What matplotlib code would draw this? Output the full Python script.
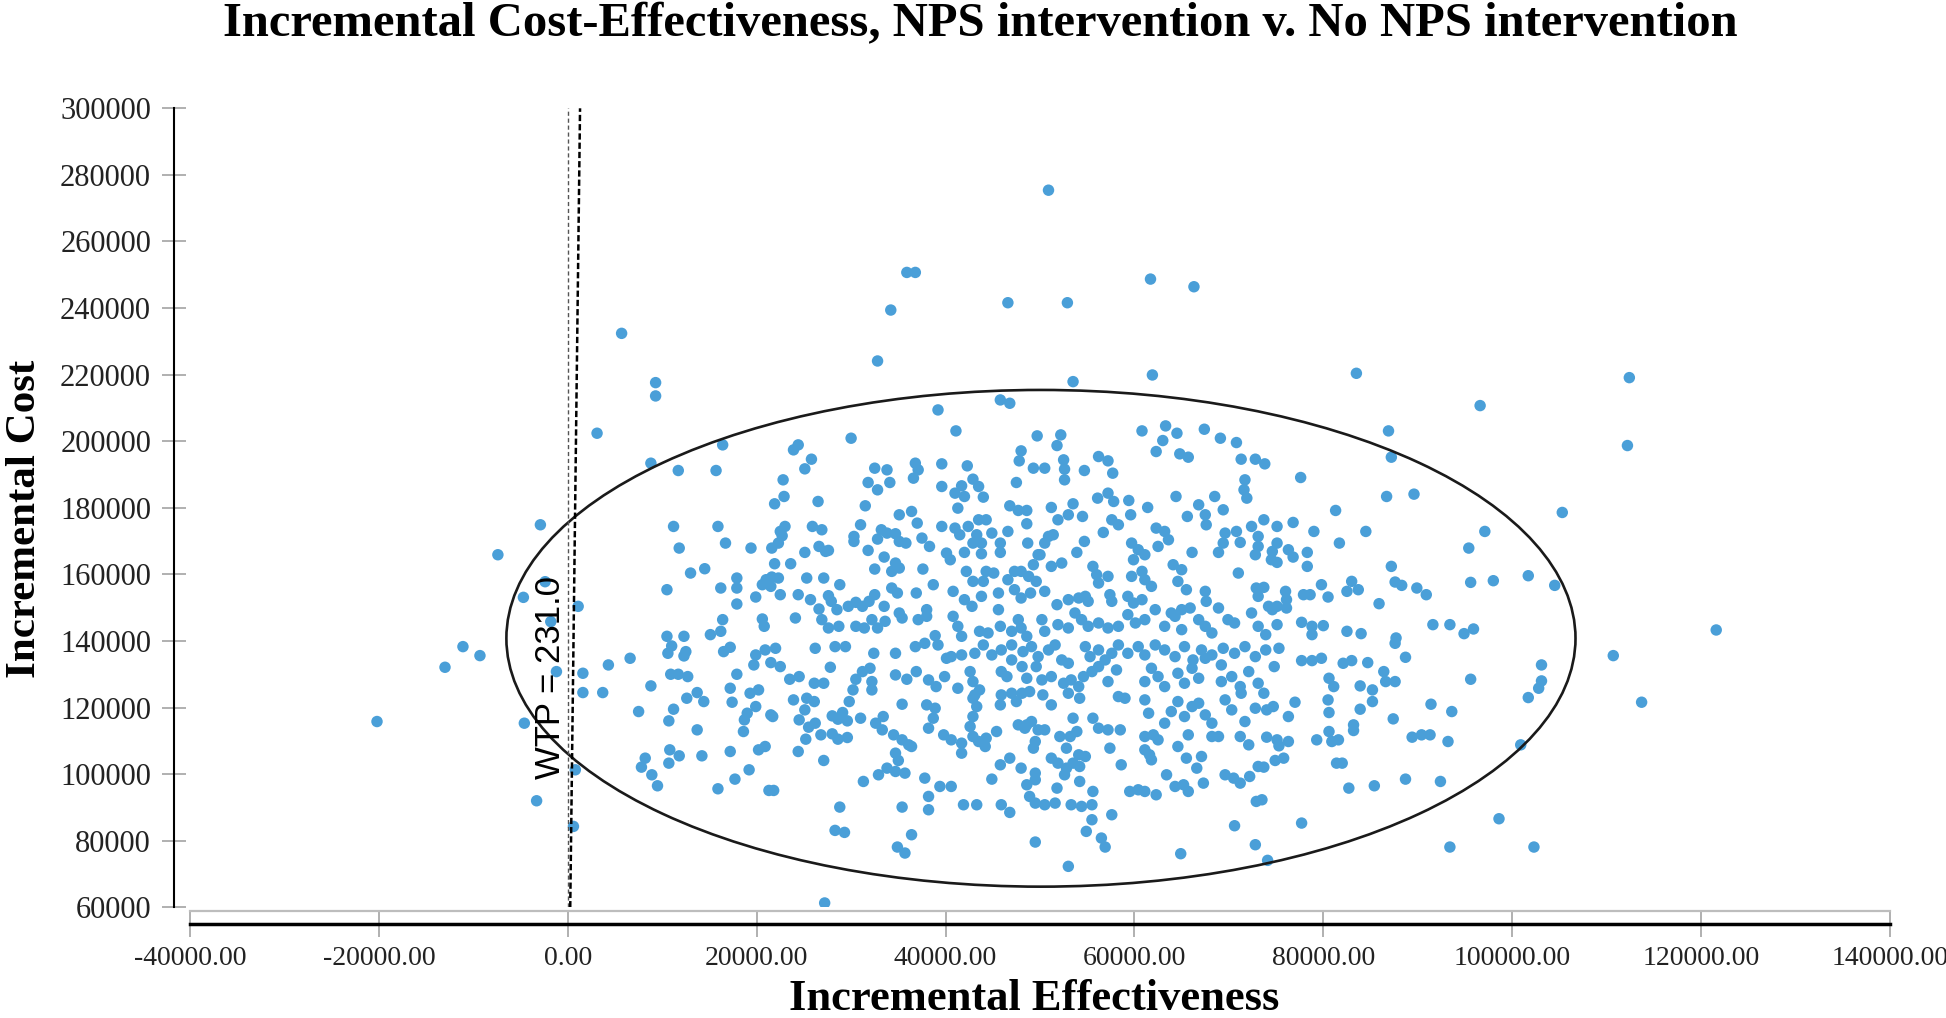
import numpy as np
import matplotlib
matplotlib.use("Agg")
import matplotlib.pyplot as plt
from matplotlib.patches import Ellipse
from matplotlib.lines import Line2D

# Values, in thousands (effectiveness, cost)
outer_pts = [
    (50.9, 275.4), (35.9, 250.7), (36.8, 250.7), (34.2, 239.4), (46.6, 241.6), (52.9, 241.6),
    (61.7, 248.7), (66.3, 246.4), (32.8, 224.1), (61.9, 219.9), (5.7, 232.4), (83.5, 220.4),
    (112.4, 219.1), (112.2, 198.7), (121.6, 143.3), (110.7, 135.6), (113.7, 121.6), (27.2, 61.3),
]

left_pts = [
    (-2.9, 174.9), (-7.4, 165.9), (-4.7, 153.1), (-2.4, 157.8), (-1.8, 145.8), (-1.2, 130.8),
    (-11.1, 138.3), (-9.3, 135.6), (-13.0, 132.1), (-20.2, 115.8), (-4.6, 115.3), (-3.3, 92.0),
    (0.8, 101.3), (0.6, 84.3),
]

upper_left_pts = [
    (9.3, 217.6), (9.3, 213.6), (3.1, 202.4), (8.8, 193.4), (16.4, 198.9), (11.7, 191.2), (15.7, 191.2),
    (23.9, 197.4), (24.4, 198.9), (25.8, 194.6), (25.1, 191.7), (30.0, 200.9), (22.8, 188.4), (22.9, 183.4),
    (21.9, 181.2), (26.5, 181.9), (32.5, 191.9), (33.8, 191.4), (31.8, 187.6), (32.8, 185.4), (34.1, 187.6),
    (31.5, 180.6), (35.1, 177.9), (31.0, 174.9), (30.3, 171.4), (30.3, 169.9), (33.2, 173.4), (33.8, 172.4),
    (32.8, 170.6), (34.7, 172.2), (35.1, 169.9), (35.8, 169.4), (11.2, 174.4), (15.9, 174.4), (11.8, 167.9),
    (16.7, 169.4), (19.4, 167.9), (23.0, 174.4), (22.5, 172.9), (22.7, 171.6), (25.9, 174.4), (26.9, 173.4),
    (21.6, 167.9), (22.3, 169.4), (25.1, 166.6), (26.6, 168.4), (27.3, 166.9), (27.6, 167.2), (31.8, 167.2),
    (33.5, 165.2), (34.7, 163.4), (35.1, 161.9), (34.3, 160.9), (32.5, 161.6), (21.9, 163.2), (23.6, 163.2),
    (13.0, 160.4), (14.5, 161.7), (10.5, 155.4), (17.9, 158.9), (17.9, 155.9), (16.2, 155.9), (21.0, 158.4),
    (21.6, 159.2), (20.6, 156.9), (21.5, 156.4), (22.3, 158.9), (19.9, 153.2), (22.5, 153.9), (25.3, 158.9),
    (27.1, 158.9), (24.4, 153.9), (28.8, 156.9), (27.6, 153.6), (27.9, 151.9), (25.7, 152.4), (26.6, 149.6),
    (17.9, 151.1), (28.5, 149.4), (29.7, 150.4), (30.5, 151.6), (31.2, 150.4), (31.9, 151.9), (32.5, 153.9),
    (33.5, 150.4), (34.3, 155.9), (34.9, 154.4), (35.1, 148.4), (16.4, 146.4), (20.6, 146.6), (20.8, 144.4),
    (24.1, 146.9), (26.9, 146.4), (27.6, 143.9), (28.7, 144.4), (30.5, 144.4), (31.4, 143.9), (32.8, 143.9),
    (32.2, 146.4), (33.6, 145.9), (35.4, 146.9), (10.5, 141.4), (12.3, 141.4), (15.1, 141.9), (16.2, 142.9),
    (1.1, 150.4),
]

upper_mid_pts = [
    (53.5, 217.9), (45.8, 212.4), (46.8, 211.4), (39.2, 209.4), (41.1, 203.1), (49.7, 201.6), (52.2, 201.9),
    (51.8, 198.7), (48.0, 197.1), (47.8, 194.1), (52.5, 194.4), (52.6, 191.6), (52.6, 188.4), (49.3, 191.9),
    (50.5, 191.9), (54.7, 191.2), (56.2, 195.4), (57.2, 194.1), (57.7, 190.4), (47.5, 187.6), (36.8, 193.4),
    (37.1, 191.4), (36.6, 188.9), (39.6, 193.2), (42.3, 192.6), (39.6, 186.4), (42.9, 188.6), (43.5, 186.4),
    (41.7, 186.6), (41.0, 184.4), (42.0, 183.4), (41.3, 179.9), (44.0, 183.2), (46.8, 180.6), (47.7, 179.2),
    (48.6, 179.2), (51.2, 180.1), (53.5, 181.2), (53.0, 177.9), (51.9, 176.4), (48.6, 175.2), (46.6, 172.9),
    (48.7, 169.4), (54.5, 177.4), (56.1, 182.9), (57.2, 184.4), (57.8, 181.9), (59.4, 182.2), (59.6, 177.9),
    (61.4, 180.1), (57.6, 176.4), (58.3, 174.9), (56.7, 172.6), (54.7, 169.9), (50.9, 171.4), (51.4, 171.9),
    (50.5, 169.4), (50.0, 165.9), (53.9, 166.6), (44.9, 172.4), (45.8, 169.4), (45.8, 166.6), (43.8, 169.4),
    (43.8, 166.2), (43.3, 171.9), (42.9, 169.4), (37.0, 175.4), (37.5, 170.9), (38.3, 168.4), (36.4, 178.9),
    (39.6, 174.4), (41.0, 173.9), (41.5, 171.9), (42.4, 174.4), (43.5, 176.4), (44.3, 176.4), (40.1, 166.4),
    (40.5, 164.4), (42.0, 166.6), (37.6, 161.6), (38.7, 156.9), (36.9, 154.4), (38.0, 149.4), (42.2, 160.9),
    (42.9, 157.9), (44.0, 157.9), (44.3, 160.9), (45.1, 160.4), (40.8, 154.9), (42.0, 152.4), (42.8, 150.4),
    (43.8, 153.4), (45.6, 154.4), (45.6, 149.4), (46.6, 158.4), (47.3, 160.9), (48.0, 160.9), (48.8, 159.4),
    (49.3, 162.9), (49.8, 165.9), (47.3, 155.4), (48.0, 152.9), (49.0, 154.4), (49.6, 157.9), (50.5, 154.9),
    (51.2, 162.4), (52.3, 163.4), (51.8, 150.9), (53.0, 152.4), (54.1, 152.9), (54.8, 153.4), (55.1, 151.9),
    (55.6, 162.4), (56.0, 159.9), (56.2, 157.4), (57.2, 159.4), (57.4, 153.9), (57.6, 151.9), (59.7, 169.4),
    (60.4, 167.4), (61.1, 165.9), (59.9, 164.4), (59.7, 159.4), (60.8, 160.9), (61.1, 158.4), (61.8, 156.4),
    (59.3, 153.4), (59.9, 151.4), (60.8, 152.4), (62.3, 173.9), (63.2, 172.9), (63.6, 170.4), (62.5, 168.4),
    (64.1, 162.9), (65.0, 161.4), (64.6, 157.9), (65.5, 155.4), (62.2, 149.4), (63.9, 148.4), (65.0, 149.4),
    (65.9, 149.9), (66.1, 166.6), (65.6, 177.4), (66.8, 180.9), (67.5, 177.9), (67.6, 174.9), (69.4, 179.4),
    (68.5, 183.4), (64.4, 183.4), (60.8, 203.1), (63.3, 204.6), (64.5, 202.4), (63.0, 200.2), (62.3, 196.9),
    (64.8, 196.2), (65.7, 195.2), (67.4, 203.6), (69.1, 200.9), (70.8, 199.6), (71.3, 194.6), (72.8, 194.6),
    (71.7, 188.4), (71.6, 185.4), (71.9, 182.9), (69.6, 172.4), (69.4, 169.4), (68.9, 166.6), (70.8, 172.9),
    (71.2, 169.6), (72.4, 174.4), (73.1, 171.4), (72.8, 165.9), (73.1, 168.4), (71.0, 160.4), (67.5, 154.9),
    (67.6, 151.9), (68.9, 149.9), (69.9, 146.4), (70.6, 145.4), (72.9, 155.9), (73.1, 153.4), (72.4, 148.4),
    (73.1, 144.4), (37.1, 146.4), (38.0, 147.4), (38.9, 141.6), (40.8, 147.4), (41.3, 144.4), (41.7, 141.4),
    (43.6, 142.9), (44.5, 142.4), (45.8, 144.4), (47.0, 142.9), (47.7, 146.4), (48.0, 143.9), (48.6, 141.4),
    (50.2, 146.4), (50.5, 142.9), (51.9, 144.9), (53.0, 143.9), (53.7, 148.4), (54.4, 146.4), (55.1, 144.4),
    (56.2, 145.4), (57.2, 143.9), (58.3, 144.4), (59.3, 147.9), (60.1, 145.4), (61.1, 146.4), (63.2, 144.4),
    (64.3, 147.4), (65.0, 143.4), (66.8, 146.4), (67.5, 144.4), (68.2, 142.4),
]

upper_right_pts = [
    (96.6, 210.7), (86.9, 203.1), (87.2, 195.2), (105.3, 178.6), (77.6, 189.1), (89.6, 184.1), (86.7, 183.4),
    (81.3, 179.2), (73.8, 193.2), (73.7, 176.4), (75.1, 174.4), (76.8, 175.6), (79.0, 172.9), (84.5, 172.9),
    (97.1, 172.9), (95.4, 167.9), (81.7, 169.4), (75.1, 169.4), (74.6, 166.9), (74.5, 164.4), (75.1, 163.6),
    (76.3, 167.4), (76.8, 165.2), (78.3, 166.6), (78.3, 162.4), (87.2, 162.4), (73.7, 156.1), (76.0, 154.9),
    (76.1, 152.4), (76.1, 149.9), (74.2, 150.4), (75.1, 150.4), (74.6, 149.4), (77.9, 153.9), (78.6, 153.9),
    (79.8, 156.9), (80.5, 153.2), (82.5, 154.9), (83.0, 157.9), (83.7, 155.4), (87.6, 157.7), (88.3, 156.7),
    (89.9, 155.9), (90.9, 153.9), (95.6, 157.6), (98.0, 158.1), (101.7, 159.6), (104.5, 156.7), (85.9, 151.2),
    (75.1, 144.9), (77.7, 145.6), (78.8, 144.4), (80.0, 144.6), (82.5, 142.9), (84.0, 142.2), (78.8, 141.9),
    (91.6, 144.9), (93.4, 144.9), (94.9, 142.2), (95.9, 143.6), (73.9, 141.9), (87.7, 140.9),
]

lower_left_pts = [
    (10.6, 136.3), (11.0, 138.5), (12.5, 136.8), (12.3, 135.5), (4.3, 132.8), (6.6, 134.8), (1.6, 130.3),
    (1.6, 124.5), (3.7, 124.5), (8.8, 126.5), (7.5, 118.8), (10.9, 130.0), (11.7, 130.0), (12.7, 129.3),
    (11.2, 119.5), (10.7, 116.0), (12.6, 122.8), (13.7, 124.5), (14.4, 121.8), (13.7, 113.3), (16.5, 136.8),
    (17.2, 138.1), (17.9, 130.0), (17.2, 125.8), (17.4, 121.6), (19.3, 124.3), (20.2, 125.3), (19.9, 120.3),
    (19.0, 118.3), (18.7, 116.3), (18.6, 112.8), (21.5, 117.8), (21.7, 117.3), (19.9, 135.8), (19.7, 132.8),
    (20.9, 137.3), (22.0, 137.8), (21.5, 133.5), (22.5, 132.3), (23.5, 128.5), (24.5, 129.3), (23.9, 122.3),
    (25.3, 122.8), (26.1, 121.8), (25.1, 119.3), (26.1, 127.3), (27.1, 127.3), (27.8, 132.1), (24.5, 116.3),
    (25.5, 114.1), (26.2, 115.3), (25.2, 110.5), (26.8, 111.8), (28.0, 117.5), (28.6, 116.5), (29.6, 116.0),
    (29.1, 118.5), (28.0, 112.1), (28.6, 110.5), (29.6, 111.0), (29.8, 121.8), (30.2, 125.3), (30.5, 128.5),
    (31.2, 130.8), (32.0, 131.8), (32.2, 127.8), (32.2, 125.3), (31.0, 116.8), (32.6, 115.3), (33.4, 117.3),
    (33.3, 113.3), (34.7, 129.8), (35.9, 128.5), (34.7, 136.3), (35.4, 121.0), (34.5, 111.8), (35.4, 110.3),
    (36.1, 108.8), (34.7, 106.3), (35.0, 104.1), (32.4, 136.3), (28.3, 138.3), (29.4, 138.3), (26.2, 137.8),
    (20.2, 107.3), (20.9, 108.3), (17.2, 106.8), (14.2, 105.5), (10.8, 107.3), (11.8, 105.5), (10.7, 103.3),
    (8.2, 104.8), (7.8, 102.1), (8.9, 99.8), (9.5, 96.5), (19.2, 101.3), (17.7, 98.5), (15.9, 95.6),
    (21.3, 95.1), (21.8, 95.1), (24.4, 106.8), (27.1, 104.1), (31.3, 97.8), (28.8, 90.1), (28.3, 83.1),
    (29.3, 82.5), (32.9, 99.8), (33.8, 101.8), (34.7, 100.8), (35.7, 100.3), (35.4, 90.1), (34.9, 78.1),
    (35.7, 76.3),
]

lower_mid_pts = [
    (36.8, 138.3), (37.8, 139.3), (39.2, 138.8), (40.1, 134.8), (40.6, 135.3), (41.7, 135.8), (43.1, 136.3),
    (44.0, 138.8), (44.9, 135.8), (45.9, 137.3), (47.0, 138.8), (47.0, 134.3), (48.2, 136.8), (49.1, 138.3),
    (49.8, 135.3), (50.9, 137.3), (51.6, 138.8), (52.3, 134.3), (53.0, 133.3), (54.8, 138.3), (55.3, 135.3),
    (56.2, 137.3), (56.9, 134.3), (57.6, 136.3), (58.3, 138.8), (59.3, 136.3), (60.4, 138.3), (61.1, 135.8),
    (62.2, 138.8), (63.2, 137.3), (64.3, 135.3), (65.3, 138.3), (66.2, 134.3), (67.1, 137.3), (68.2, 135.8),
    (69.4, 137.8), (70.6, 136.3), (71.7, 138.3), (72.8, 135.3),
    (36.9, 130.8), (38.2, 128.3), (39.0, 126.3), (39.9, 129.3), (41.3, 125.8), (42.6, 130.8), (42.9, 127.8),
    (43.6, 125.3), (42.9, 122.8), (45.9, 130.8), (46.5, 129.3), (48.1, 132.3), (48.6, 128.8), (49.6, 132.3),
    (50.2, 128.3), (51.2, 129.3), (52.5, 127.3), (53.3, 128.3), (54.1, 126.3), (54.6, 129.3), (55.5, 130.8),
    (56.2, 132.3), (57.2, 127.8), (58.1, 131.3), (58.3, 123.3), (59.0, 122.8), (61.1, 127.8), (61.8, 131.8),
    (62.5, 129.3), (63.2, 126.3), (64.6, 130.3), (65.3, 127.3), (66.1, 131.8), (66.8, 128.8), (67.5, 134.8),
    (69.2, 132.8), (69.2, 127.8), (70.3, 129.3), (71.2, 126.3), (72.1, 130.8), (73.1, 127.3),
    (38.0, 120.8), (38.9, 119.8), (38.7, 116.8), (38.2, 113.8), (43.1, 123.8), (43.3, 120.3), (42.9, 117.3),
    (42.6, 114.3), (45.9, 123.8), (47.0, 124.3), (48.1, 124.3), (48.9, 124.8), (45.8, 120.8), (47.5, 121.8),
    (50.3, 123.8), (51.2, 120.8), (53.0, 124.3), (54.2, 122.8), (61.1, 122.3), (61.5, 118.3), (63.2, 115.3),
    (63.9, 118.8), (64.6, 121.8), (65.3, 117.3), (66.1, 120.3), (66.8, 121.3), (67.5, 117.8), (68.2, 115.3),
    (69.6, 122.3), (70.3, 119.3), (71.3, 124.3), (71.7, 115.8), (72.8, 119.8), (48.6, 114.8), (49.1, 115.8),
    (49.8, 113.3), (50.5, 113.3), (53.5, 116.8), (55.6, 116.8), (56.2, 113.8), (57.2, 113.3), (58.5, 113.3),
    (39.8, 111.8), (40.6, 110.3), (41.7, 109.3), (41.7, 106.3), (42.9, 111.3), (43.5, 109.8), (44.2, 108.3),
    (44.3, 110.8), (45.4, 112.8), (36.4, 108.3), (47.7, 114.8), (48.4, 113.8), (49.5, 109.8), (49.3, 107.8),
    (52.1, 111.3), (53.2, 111.3), (53.9, 112.8), (52.8, 107.8), (51.2, 104.8), (51.9, 103.3), (52.8, 101.8),
    (54.1, 105.8), (54.8, 105.3), (54.2, 102.3), (53.5, 103.3), (52.6, 99.8), (57.4, 107.8), (58.6, 102.8),
    (61.1, 111.3), (62.0, 111.8), (62.5, 110.3), (61.1, 107.3), (61.6, 105.8), (61.8, 104.3), (64.6, 108.3),
    (65.5, 104.8), (67.1, 105.3), (66.6, 101.8), (65.7, 111.8), (68.2, 111.3), (68.9, 111.3), (71.2, 111.3),
    (72.1, 108.8), (45.8, 102.8), (46.8, 104.8), (48.0, 101.8), (49.5, 100.3), (49.5, 98.3), (73.1, 102.3),
    (37.8, 98.8), (39.4, 96.3), (40.6, 96.3), (38.2, 93.3), (38.2, 89.3), (41.9, 90.8), (43.3, 90.8),
    (44.9, 98.5), (45.9, 90.8), (46.8, 88.5), (48.6, 96.8), (48.9, 93.3), (49.5, 91.3), (50.5, 90.8),
    (51.6, 91.3), (51.8, 95.8), (53.3, 90.8), (54.4, 90.3), (55.5, 90.8), (55.6, 94.8), (54.2, 97.8),
    (55.5, 86.3), (57.6, 87.8), (54.9, 82.8), (59.5, 94.8), (60.4, 95.3), (61.1, 94.8), (62.3, 93.8),
    (63.4, 99.8), (64.3, 96.3), (65.2, 96.8), (65.7, 94.8), (67.3, 97.3), (69.6, 99.8), (70.5, 98.8),
    (71.2, 97.3), (72.2, 99.3), (72.9, 91.8), (36.4, 81.8), (49.5, 79.6), (56.5, 80.8), (56.9, 78.1),
    (53.0, 72.3), (64.9, 76.1), (70.6, 84.5), (72.8, 78.8),
]

lower_right_pts = [
    (73.9, 137.3), (75.3, 137.8), (74.8, 132.3), (77.7, 134.1), (78.8, 134.1), (79.8, 134.8), (82.1, 133.3),
    (83.0, 134.1), (84.7, 133.5), (87.6, 139.3), (88.7, 135.1), (86.4, 130.8), (86.6, 127.8), (87.6, 127.8),
    (80.6, 128.8), (81.1, 126.3), (83.9, 126.5), (85.2, 125.3), (85.2, 121.8), (95.6, 128.5), (73.7, 124.3),
    (74.0, 119.3), (74.7, 120.3), (76.3, 117.3), (77.0, 121.6), (80.5, 122.3), (80.6, 118.5), (83.9, 119.5),
    (87.4, 116.6), (91.4, 121.0), (93.6, 118.8), (83.2, 114.8), (83.2, 113.1), (80.6, 112.8), (80.9, 109.8),
    (81.6, 110.3), (79.3, 110.3), (74.0, 111.1), (75.1, 110.3), (75.3, 108.5), (76.3, 109.8), (74.9, 104.1),
    (75.8, 104.8), (73.7, 102.1), (81.4, 103.3), (82.0, 103.3), (89.4, 111.1), (90.4, 111.8), (91.3, 111.8),
    (93.2, 109.8), (100.9, 108.8), (101.7, 123.0), (102.8, 125.8), (103.1, 128.0), (103.1, 132.8),
    (82.7, 95.8), (85.4, 96.5), (88.7, 98.5), (92.4, 97.8), (73.5, 92.3), (77.7, 85.3), (98.6, 86.6),
    (93.4, 78.1), (102.3, 78.1), (74.1, 74.1),
]

regions = [outer_pts, left_pts, upper_left_pts, upper_mid_pts, upper_right_pts,
           lower_left_pts, lower_mid_pts, lower_right_pts]
pts = np.array([p for r in regions for p in r]) * 1000.0
eff = pts[:, 0]
cost = pts[:, 1]

# confidence ellipse (centre and semi-axes)
ell_center = (50100, 140800)
ell_half_w = 56600
ell_half_h = 74600

wtp = 231.0

x_ticks = np.arange(-40000, 140001, 20000)
y_ticks = np.arange(60000, 300001, 20000)

W, H = 1946, 1018
fig = plt.figure(figsize=(W / 100, H / 100), dpi=100)
ax = fig.add_axes([190 / W, 1 - 907.3 / H, 1700 / W, 799 / H])
ax.set_xlim(-40000, 140000)
ax.set_ylim(60000, 300000)

ax.scatter(eff, cost, s=68, color="#4a9fd8", edgecolors="none", zorder=2)

ax.add_patch(Ellipse(ell_center, 2 * ell_half_w, 2 * ell_half_h, fill=False,
                     ec="#1a1a1a", lw=1.9, zorder=3))

# reference lines
ax.plot([0, 0], [60000, 300000], color="#555555", lw=1.0, dashes=(3, 2), zorder=3)
wtp_cost = np.array([60000, 300000])
ax.plot(wtp_cost / wtp, wtp_cost, color="black", lw=1.8, dashes=(2.5, 1.2), zorder=3)
ax.text(-1800, 129000, "WTP = 231.0", rotation=90, ha="center", va="center",
        fontsize=25, family="Liberation Sans", color="black", zorder=4)

# axes styling
for s in ["top", "right"]:
    ax.spines[s].set_visible(False)
ax.spines["left"].set_position(("outward", 11.5))
ax.spines["left"].set_linewidth(1.5)
ax.spines["bottom"].set_position(("outward", 12))
ax.spines["bottom"].set_linewidth(2.5)
ax.add_line(Line2D([0, 1], [-3.4 / 799, -3.4 / 799], transform=ax.transAxes,
                   color="#bdbdbd", lw=1.6, clip_on=False))

ax.set_xticks(x_ticks)
ax.set_xticklabels([f"{v:.2f}" for v in x_ticks])
ax.set_yticks(y_ticks)
ax.set_yticklabels([f"{v:d}" for v in y_ticks])
ax.tick_params(axis="x", direction="inout", length=18, width=1.3, color="#aaaaaa",
               labelsize=20, labelcolor="#222222", pad=7)
ax.tick_params(axis="y", direction="inout", length=17, width=1.3, color="#aaaaaa",
               labelsize=22, labelcolor="#222222", pad=8)
for lbl in ax.get_xticklabels() + ax.get_yticklabels():
    lbl.set_family("Liberation Serif")

fig.text(980 / W, 1 - 24 / H,
         "Incremental Cost-Effectiveness, NPS intervention v. No NPS intervention",
         ha="center", va="center", fontsize=35, fontweight="bold", family="Liberation Serif")
fig.text(1034 / W, 1 - 999 / H, "Incremental Effectiveness", ha="center", va="center",
         fontsize=32, fontweight="bold", family="Liberation Serif")
fig.text(25 / W, 1 - 519 / H, "Incremental Cost", ha="center", va="center", rotation=90,
         fontsize=31, fontweight="bold", family="Liberation Serif")

fig.savefig("out.png", dpi=100, facecolor="white")
